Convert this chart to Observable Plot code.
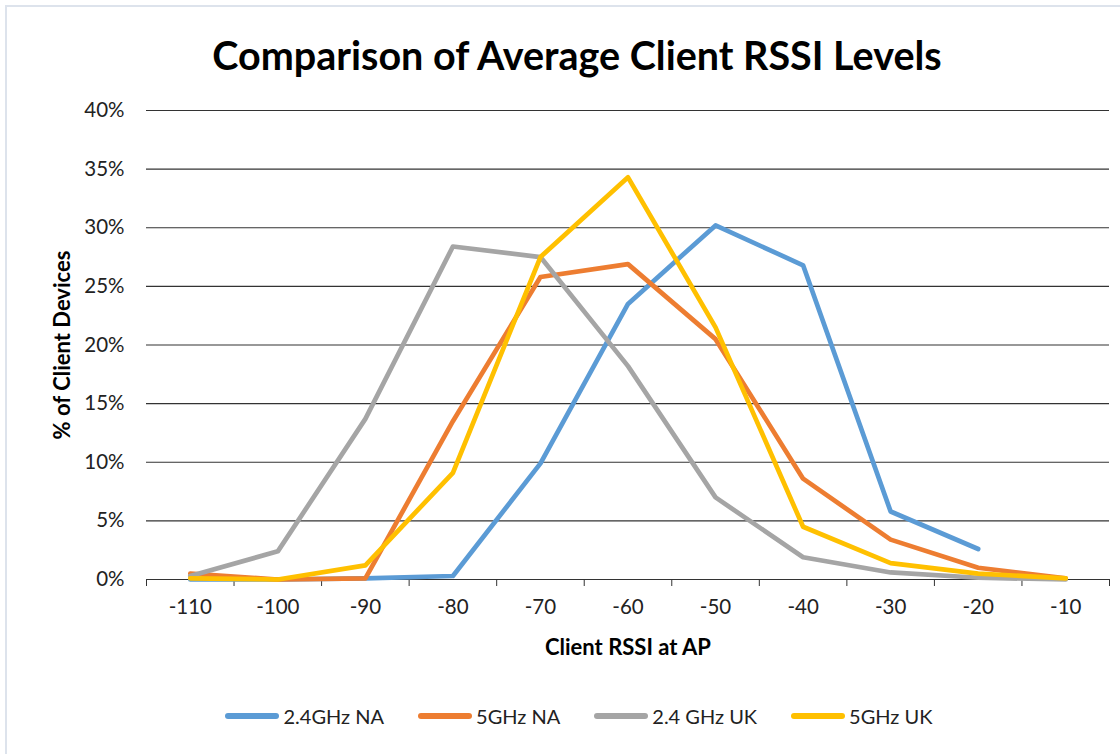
<!DOCTYPE html>
<html>
<head>
<meta charset="utf-8">
<script src="https://cdn.jsdelivr.net/npm/d3@7"></script>
<script src="https://cdn.jsdelivr.net/npm/@observablehq/plot@0.6"></script>
<style>
  html, body { margin: 0; padding: 0; background: #fff; }
  #wrap { position: relative; width: 1120px; height: 754px; background: #fff; font-family: Lato, "Open Sans", sans-serif; overflow: hidden; }
  #frame { position: absolute; left: 5px; top: 5px; width: 1130px; height: 760px; border: 2px solid #dde3ec; box-sizing: border-box; }
  #title { position: absolute; left: 0; width: 1154px; top: 55px; transform: translateY(-50%); text-align: center; font-size: 39.5px; font-weight: bold; color: #000; line-height: 1; }
  #chart { position: absolute; left: 0; top: 90px; }
  #ylab { position: absolute; left: 62px; top: 345px; transform: translate(-50%, -50%) rotate(-90deg); font-size: 22px; font-weight: bold; color: #000; white-space: nowrap; line-height: 1; }
  #xlab { position: absolute; left: 628px; top: 647px; transform: translate(-50%, -50%); font-size: 22px; font-weight: bold; color: #000; white-space: nowrap; line-height: 1; }
  #legend { position: absolute; top: 716px; left: 0; width: 1158px; transform: translateY(-50%); display: flex; justify-content: center; gap: 34px; font-size: 20px; color: #222; line-height: 1; }
  .item { display: flex; align-items: center; }
  .sw { width: 54px; height: 6px; border-radius: 3px; margin-right: 4px; }
</style>
</head>
<body>
<div id="wrap">
  <div id="frame"></div>
  <div id="title">Comparison of Average Client RSSI Levels</div>
  <div id="chart"></div>
  <div id="ylab">% of Client Devices</div>
  <div id="xlab">Client RSSI at AP</div>
  <div id="legend"></div>
</div>
<script>
const categories = [-110, -100, -90, -80, -70, -60, -50, -40, -30, -20, -10];
const seriesNames = ["2.4GHz NA", "5GHz NA", "2.4 GHz UK", "5GHz UK"];
const colors = ["#5B9BD5", "#ED7D31", "#A5A5A5", "#FFC000"];
const na24 = [0, 0, 0.1, 0.3, 9.9, 23.5, 30.2, 26.8, 5.8, 2.6, null];
const na5 = [0.5, 0, 0.1, 13.5, 25.8, 26.9, 20.5, 8.6, 3.4, 1.0, 0.1];
const uk24 = [0.3, 2.4, 13.7, 28.4, 27.5, 18.2, 7.0, 1.9, 0.6, 0.15, 0];
const uk5 = [0.1, 0, 1.2, 9.1, 27.5, 34.3, 21.5, 4.5, 1.4, 0.5, 0.1];
const yTicks = [0, 5, 10, 15, 20, 25, 30, 35, 40];

const seriesValues = [na24, na5, uk24, uk5];
const data = [];
seriesNames.forEach((s, i) => {
  categories.forEach((c, j) => {
    const v = seriesValues[i][j];
    if (v !== null) data.push({series: s, x: c, y: v});
  });
});
const step = categories[1] - categories[0];
const boundaries = categories.map(c => c - step / 2).concat([categories[categories.length - 1] + step / 2]);

const chart = Plot.plot({
  width: 1120,
  height: 600,
  marginLeft: 146,
  marginRight: 11,
  marginTop: 20,
  marginBottom: 111,
  style: {fontFamily: "Lato, 'Open Sans', sans-serif", fontSize: "20.5px", color: "#222", background: "transparent"},
  x: {type: "linear", domain: [boundaries[0], boundaries[boundaries.length - 1]]},
  y: {domain: [0, 40]},
  color: {domain: seriesNames, range: colors},
  marks: [
    Plot.gridY(yTicks.slice(1), {stroke: "#333", strokeOpacity: 1, strokeWidth: 1.2}),
    Plot.ruleY([0], {stroke: "#333", strokeWidth: 1.2}),
    Plot.axisX({ticks: boundaries, tickSize: 7, tickFormat: () => "", stroke: "#333", label: null}),
    Plot.axisX({ticks: categories, tickSize: 0, tickPadding: 20, tickFormat: d => String(d), label: null, fill: "#222"}),
    Plot.axisY({ticks: yTicks, tickSize: 0, tickPadding: 22, tickFormat: d => d + "%", label: null, fill: "#222"}),
    Plot.line(data, {x: "x", y: "y", z: "series", stroke: "series", strokeWidth: 4.7, strokeLinejoin: "round", strokeLinecap: "round"})
  ]
});
document.getElementById("chart").appendChild(chart);

const legend = document.getElementById("legend");
seriesNames.forEach((s, i) => {
  const item = document.createElement("div");
  item.className = "item";
  const sw = document.createElement("div");
  sw.className = "sw";
  sw.style.background = colors[i];
  const t = document.createElement("span");
  t.textContent = s;
  item.appendChild(sw);
  item.appendChild(t);
  legend.appendChild(item);
});
</script>
</body>
</html>
